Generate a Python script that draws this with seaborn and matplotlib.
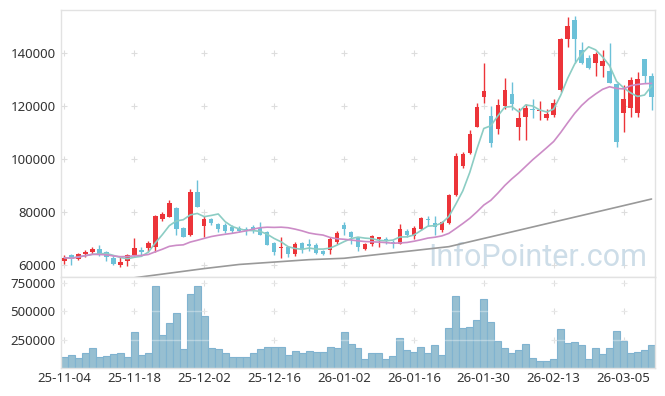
import numpy as np
import pandas as pd
import matplotlib
matplotlib.use('Agg')
import matplotlib.pyplot as plt
import seaborn as sns

# trading days shown (yy-mm-dd)
dates = ['25-11-04', '25-11-05', '25-11-06', '25-11-07', '25-11-10', '25-11-11', '25-11-12', '25-11-13',
         '25-11-14', '25-11-17', '25-11-18', '25-11-19', '25-11-20', '25-11-21', '25-11-24', '25-11-25',
         '25-11-26', '25-11-27', '25-11-28', '25-12-01', '25-12-02', '25-12-03', '25-12-04', '25-12-05',
         '25-12-08', '25-12-09', '25-12-10', '25-12-11', '25-12-12', '25-12-15', '25-12-16', '25-12-17',
         '25-12-18', '25-12-19', '25-12-22', '25-12-23', '25-12-24', '25-12-26', '25-12-29', '25-12-30',
         '26-01-02', '26-01-05', '26-01-06', '26-01-07', '26-01-08', '26-01-09', '26-01-12', '26-01-13',
         '26-01-14', '26-01-15', '26-01-16', '26-01-19', '26-01-20', '26-01-21', '26-01-22', '26-01-23',
         '26-01-26', '26-01-27', '26-01-28', '26-01-29', '26-01-30', '26-02-02', '26-02-03', '26-02-04',
         '26-02-05', '26-02-06', '26-02-09', '26-02-10', '26-02-11', '26-02-12', '26-02-13', '26-02-19',
         '26-02-20', '26-02-23', '26-02-24', '26-02-25', '26-02-26', '26-02-27', '26-03-03', '26-03-04',
         '26-03-05', '26-03-06', '26-03-09', '26-03-10', '26-03-11']

opens = [61630, 63650, 62390, 64280, 64900, 66040, 64900, 62640, 60000, 61630,
         63650, 65660, 66410, 66920, 77360, 78240, 81510, 73960, 71450, 87500,
         74840, 77360, 75470, 74970, 74470, 74090, 73710, 74210, 73960, 72450,
         68300, 66330, 66920, 64150, 68430, 67920, 67540, 65410, 65660, 68550,
         74970, 72450, 70190, 66160, 67920, 69930, 69680, 68680, 68050, 72950,
         70940, 73710, 77100, 75720, 73210, 75720, 86420, 97360, 102140, 112200,
         123520, 116220, 111440, 119990, 124530, 111950, 115970, 118620, 118110, 115340,
         116600, 126030, 145160, 152450, 141130, 137990, 136350, 135220, 133210, 128300,
         117480, 119370, 117480, 137610, 131320]
highs = [63770, 64150, 64650, 65530, 66790, 67550, 65400, 63650, 63140, 64020,
         70060, 66670, 69180, 78990, 80000, 84530, 81760, 74460, 88550, 92070,
         78600, 77860, 75720, 75720, 74970, 74710, 74460, 75090, 76220, 72950,
         68550, 70440, 67290, 68800, 68800, 69680, 68430, 65660, 70440, 72950,
         76100, 72830, 70690, 68300, 71320, 70690, 70440, 69430, 75340, 73580,
         74710, 77990, 78620, 78490, 76600, 86790, 102390, 102770, 110940, 121000,
         136100, 119990, 122510, 130690, 129180, 119120, 120630, 122510, 122000, 118740,
         122510, 145530, 153710, 153960, 144280, 139240, 140500, 141130, 143650, 128800,
         127930, 131070, 132830, 137610, 132330]
lows = [60250, 59870, 61890, 62890, 64020, 63400, 61630, 60120, 59370, 59620,
        63400, 63650, 64900, 65030, 76730, 77990, 71320, 70440, 70940, 81760,
        70440, 74970, 72580, 72200, 72200, 72450, 71190, 71950, 71190, 67420,
        63770, 62520, 62890, 63400, 64650, 65160, 64150, 63770, 64150, 67800,
        71320, 67920, 65280, 65660, 67170, 66920, 67920, 66420, 67800, 70690,
        69680, 73200, 74710, 71190, 72450, 75340, 86040, 96730, 101890, 111950,
        121000, 104400, 109430, 118740, 118490, 107170, 107170, 115340, 114710, 114710,
        115970, 125410, 142390, 136350, 135850, 133830, 131320, 131070, 128550, 104650,
        110310, 115970, 115970, 128800, 118490]
closes = [62770, 62390, 64020, 65030, 66040, 63650, 63140, 60380, 61130, 63650,
          66410, 64900, 68300, 78490, 79250, 83390, 73710, 70690, 87550, 82010,
          77360, 75970, 73460, 72960, 72960, 72950, 72950, 73200, 71450, 67670,
          64900, 66580, 64150, 67920, 66160, 67290, 64650, 64150, 69680, 71950,
          73710, 70440, 66920, 67800, 70940, 70570, 69430, 68430, 73580, 71190,
          74080, 77730, 76850, 74460, 76220, 86290, 101130, 101890, 109430, 119500,
          125660, 106160, 120380, 126030, 120750, 115470, 119370, 118360, 118490, 116980,
          121000, 145280, 150310, 145410, 136100, 134460, 139620, 136980, 128800, 106540,
          122640, 129810, 130190, 131450, 123270]
volumes = [93000, 110500, 84300, 128000, 171500, 93000, 101700, 119200, 128000, 93000,
           319800, 110500, 128000, 720900, 293600, 398300, 485500, 162800, 651200, 720900,
           459300, 171500, 162800, 128000, 93000, 93000, 93000, 128000, 162800, 189000,
           189000, 189000, 110500, 145400, 128000, 145400, 136600, 136600, 189000, 180000,
           319800, 215100, 180000, 75600, 128000, 128000, 75600, 101700, 267400, 157000,
           139500, 189000, 128000, 206400, 110500, 354700, 633700, 354700, 363400, 424400,
           607600, 407000, 241300, 180000, 128000, 154100, 215100, 84300, 58200, 58200,
           75600, 346000, 223800, 232600, 206400, 75600, 171500, 119200, 171500, 328500,
           241300, 128000, 136600, 154100, 206400]

# 60-day average (earlier history is not shown)
ma60_pos = [10, 15, 20, 25, 30, 35, 40, 45, 50, 55, 60, 65, 70, 75, 80, 84]
ma60_val = [55200, 56940, 58680, 60230, 61130, 62040, 62560, 64030, 65470, 66940,
            70040, 73130, 76230, 79320, 82420, 84910]

price_ticks = [60000, 80000, 100000, 120000, 140000]
volume_ticks = [250000, 500000, 750000]

RED = '#ec3439'
BLUE = '#6cc1d8'

df = pd.DataFrame({'date': dates, 'open': opens, 'high': highs, 'low': lows,
                   'close': closes, 'volume': volumes})
df['idx'] = np.arange(len(df))
df['ma5'] = df['close'].rolling(5, min_periods=1).mean()
df['ma20'] = df['close'].rolling(20, min_periods=1).mean()
df['color'] = np.where(df['close'] >= df['open'], RED, BLUE)
df['body_lo'] = df[['open', 'close']].min(axis=1)
df['body_h'] = (df['close'] - df['open']).abs().clip(lower=350)

sns.set_theme(style='white')
plt.rcParams['font.family'] = ['Noto Sans', 'DejaVu Sans']

W, H = 665, 396
fig = plt.figure(figsize=(W / 100, H / 100), dpi=100)
ax1 = fig.add_axes([61 / W, 1 - 277 / H, 594 / W, 267 / H])
ax2 = fig.add_axes([61 / W, 1 - 368 / H, 594 / W, 91 / H])

# candles
ax1.vlines(df['idx'], df['low'], df['high'], colors=df['color'], lw=1, zorder=3)
ax1.bar(df['idx'], df['body_h'], bottom=df['body_lo'], width=0.64, color=df['color'],
        linewidth=0, zorder=3)

sns.lineplot(x=df['idx'], y=df['ma5'], ax=ax1, color='#8ccdc4', lw=1.2, zorder=4)
sns.lineplot(x=df['idx'], y=df['ma20'], ax=ax1, color='#cc8cc7', lw=1.2, zorder=4)
sns.lineplot(x=ma60_pos, y=ma60_val, ax=ax1, color='#999999', lw=1.2, zorder=4)

ax1.text(0.9865, 0.041, 'InfoPointer.com', transform=ax1.transAxes, ha='right', va='baseline',
         fontsize=22, color='#cddde8', family='Roboto', zorder=1)

# volume
sns.barplot(x=df['idx'], y=df['volume'], ax=ax2, native_scale=True, width=1.0,
            color='#97bfd1', edgecolor='#80b3d0', linewidth=0.8, saturation=1, zorder=2)
for v in volume_ticks:
    ax2.axhline(v, color='white', alpha=0.35, lw=1, zorder=3)

xt = list(range(0, len(df), 10))
for ax, yt in [(ax1, price_ticks), (ax2, volume_ticks)]:
    gx, gy = np.meshgrid(xt, yt)
    ax.scatter(gx.ravel(), gy.ravel(), marker='+', s=18, color='#dddddd', lw=0.8, zorder=0.5)
    ax.set_xlim(-0.5, len(df) - 0.5)
    ax.set_yticks(yt)
    ax.set_yticklabels([str(v) for v in yt])
    ax.set_xlabel('')
    ax.set_ylabel('')
    for s in ax.spines.values():
        s.set_color('#e2e2e2')
        s.set_linewidth(1)
    ax.tick_params(length=0, labelsize=9.5, labelcolor='#333333', pad=4)

ax1.set_ylim(55500, 156200)
ax2.set_ylim(0, 800000)
ax1.set_xticks(xt)
ax1.set_xticklabels([])
ax2.set_xticks(xt)
ax2.set_xticklabels([dates[i] for i in xt])
ax2.tick_params(axis='x', pad=3)

fig.savefig('out.png', dpi=100)
